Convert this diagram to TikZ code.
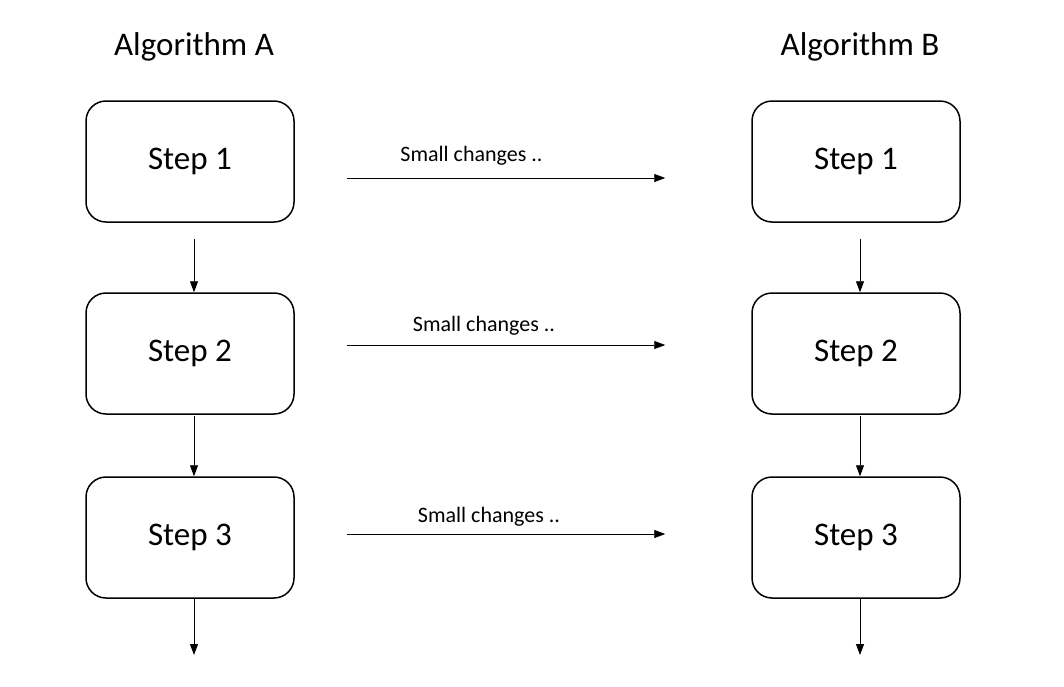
\documentclass[tikz,border=0pt]{standalone}
\usepackage{fontspec}
\setmainfont{Carlito}
\usetikzlibrary{arrows.meta}
\begin{document}
\begin{tikzpicture}[x=1pt,y=-1pt,
  stepbox/.style={draw, line width=1.5pt, rounded corners=20pt, minimum width=208pt, minimum height=121pt, inner sep=0pt, font=\fontsize{33}{38}\selectfont},
  title/.style={font=\fontsize{33}{38}\selectfont},
  lbl/.style={font=\fontsize{22}{26}\selectfont},
  conn/.style={line width=0.9pt, -{Triangle[length=11pt,width=8pt]}}]
\useasboundingbox (0,0) rectangle (1064,686);
\node[title] (ta) at (194,47) {Algorithm A};
\node[title] (tb) at (860,47) {Algorithm B};
\node[stepbox] (a1) at (190,161.5) {Step 1};
\node[stepbox] (a2) at (190,353.5) {Step 2};
\node[stepbox] (a3) at (190,537.5) {Step 3};
\node[stepbox] (b1) at (856,161.5) {Step 1};
\node[stepbox] (b2) at (856,353.5) {Step 2};
\node[stepbox] (b3) at (856,537.5) {Step 3};
\coordinate (ea) at (194,655);
\coordinate (eb) at (860,655);
\draw[conn] ([xshift=4pt,yshift=-16pt]a1.south) -- ([xshift=4pt]a2.north);
\draw[conn] ([xshift=4pt,yshift=-1pt]a2.south) -- ([xshift=4pt]a3.north);
\draw[conn] ([xshift=4pt]a3.south) -- (ea);
\draw[conn] ([xshift=4pt,yshift=-16pt]b1.south) -- ([xshift=4pt]b2.north);
\draw[conn] ([xshift=4pt,yshift=-1pt]b2.south) -- ([xshift=4pt]b3.north);
\draw[conn] ([xshift=4pt]b3.south) -- (eb);
\draw[conn] ([xshift=52pt,yshift=-16.5pt]a1.east) -- ([xshift=-86pt,yshift=-16.5pt]b1.west);
\draw[conn] ([xshift=52pt,yshift=8.5pt]a2.east) -- ([xshift=-86pt,yshift=8.5pt]b2.west);
\draw[conn] ([xshift=52pt,yshift=3.5pt]a3.east) -- ([xshift=-86pt,yshift=3.5pt]b3.west);
\node[lbl] (l1) at (471.5,156) {Small changes ..};
\node[lbl] (l2) at (484,326) {Small changes ..};
\node[lbl] (l3) at (489,517) {Small changes ..};
\end{tikzpicture}
\end{document}
